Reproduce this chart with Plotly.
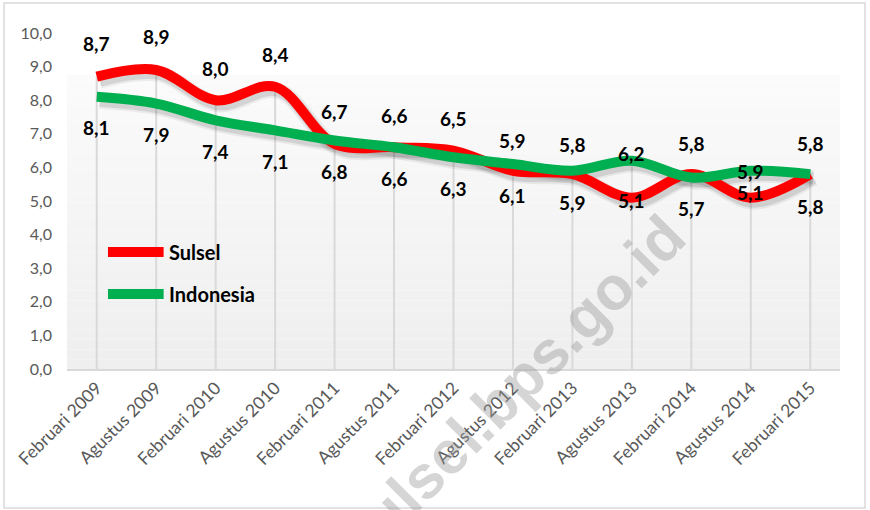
import plotly.graph_objects as go

# Tingkat pengangguran terbuka (%) - Sulsel vs Indonesia
periods = ["Februari 2009", "Agustus 2009", "Februari 2010", "Agustus 2010",
           "Februari 2011", "Agustus 2011", "Februari 2012", "Agustus 2012",
           "Februari 2013", "Agustus 2013", "Februari 2014", "Agustus 2014",
           "Februari 2015"]
sulsel = [8.7, 8.9, 8.0, 8.4, 6.7, 6.6, 6.5, 5.9, 5.8, 5.1, 5.8, 5.1, 5.8]
indonesia = [8.1, 7.9, 7.4, 7.1, 6.8, 6.6, 6.3, 6.1, 5.9, 6.2, 5.7, 5.9, 5.8]

# label offsets in pixels (positive = up), as placed in the original chart
sulsel_shift = [33, 33, 32, 32, 32, 32, 32, 30, 30, -3, 31, 5, 31]
indo_shift = [-31, -31, -31, -31, -31, -31, -31, -31, -32, 7, -31, -1, -32]

RED = "#FF0000"
GREEN = "#00B050"
FONT = "Lato"
idx = list(range(len(periods)))

fig = go.Figure()

# drop lines from the highest point down to the axis
drop_x, drop_y = [], []
for p, a, b in zip(periods, sulsel, indonesia):
    drop_x += [p, p, None]
    drop_y += [0, max(a, b), None]
fig.add_trace(go.Scatter(x=drop_x, y=drop_y, mode="lines",
                         line=dict(color="#d9d9d9", width=2),
                         hoverinfo="skip", showlegend=False))

# soft shadow under both lines (shifted overlay axes)
for series in (sulsel, indonesia):
    for w, op in ((16, 0.06), (12, 0.10)):
        fig.add_trace(go.Scatter(x=idx, y=series, mode="lines", xaxis="x2", yaxis="y2",
                                 line=dict(color="rgba(0,0,0,%s)" % op, width=w,
                                           shape="spline", smoothing=1),
                                 hoverinfo="skip", showlegend=False))

fig.add_trace(go.Scatter(x=idx, y=sulsel, mode="lines", name="Sulsel", xaxis="x3", yaxis="y3",
                         line=dict(color=RED, width=10, shape="spline", smoothing=1),
                         showlegend=False))
fig.add_trace(go.Scatter(x=idx, y=indonesia, mode="lines", name="Indonesia", xaxis="x3", yaxis="y3",
                         line=dict(color=GREEN, width=10, shape="spline", smoothing=1),
                         showlegend=False))

annotations = []
for p, v, s in zip(periods, sulsel, sulsel_shift):
    annotations.append(dict(x=p, y=v, xref="x", yref="y", text=("%.1f" % v).replace(".", ","),
                            showarrow=False, yshift=s,
                            font=dict(family=FONT, size=19, color="black", weight="bold")))
for p, v, s in zip(periods, indonesia, indo_shift):
    annotations.append(dict(x=p, y=v, xref="x", yref="y", text=("%.1f" % v).replace(".", ","),
                            showarrow=False, yshift=s,
                            font=dict(family=FONT, size=19, color="black", weight="bold")))

# legend (drawn by hand to match the long line samples)
shapes = []
for name, color, ly in (("Sulsel", RED, 0.348), ("Indonesia", GREEN, 0.223)):
    shapes.append(dict(type="line", xref="paper", yref="paper", x0=0.053, x1=0.125, y0=ly, y1=ly,
                       line=dict(color=color, width=10)))
    annotations.append(dict(x=0.129, y=ly, xref="paper", yref="paper", text=name, showarrow=False,
                            xanchor="left", yanchor="middle",
                            font=dict(family=FONT, size=20, color="black", weight="bold")))

# watermark (runs off the bottom edge, as in the original)
annotations.append(dict(x=0.575, y=-0.06, xref="paper", yref="paper", text="sulsel.bps.go.id",
                        showarrow=False, textangle=-45, xanchor="center", yanchor="middle",
                        font=dict(family="Liberation Sans", size=61, color="rgba(150,150,150,0.4)",
                                  weight="bold")))

# plot area gradient (white at top to light grey at the axis)
n = 30
top = 0.875
for i in range(n):
    t = i / (n - 1)
    c = int(251 - (251 - 239) * (1 - t))
    shapes.append(dict(type="rect", xref="x domain", yref="y domain", layer="below",
                       x0=0, x1=1, y0=top * i / n, y1=top * (i + 1) / n,
                       fillcolor="rgb(%d,%d,%d)" % (c, c, c), line=dict(width=0)))

# outer chart border
shapes.append(dict(type="rect", xref="paper", yref="paper", x0=-0.0815, x1=1.0323,
                   y0=-0.414, y1=1.089, line=dict(color="#d9d9d9", width=1.5)))

dx = 3 / 59.5
dy = 4 / 33.6
fig.update_layout(
    width=870, height=510,
    margin=dict(l=67, r=30, t=33, b=141),
    paper_bgcolor="white", plot_bgcolor="rgba(0,0,0,0)",
    separators=",.",
    font=dict(family=FONT, color="#595959"),
    showlegend=False,
    shapes=shapes,
    annotations=annotations,
    xaxis=dict(type="category", categoryorder="array", categoryarray=periods,
               range=[-0.5, len(periods) - 0.5], tickangle=-45, showgrid=False,
               showline=True, linecolor="#d9d9d9", linewidth=2, ticks="",
               tickfont=dict(family=FONT, size=17.5, color="#595959")),
    yaxis=dict(range=[0, 10], dtick=1, tickformat=".1f", showgrid=False, zeroline=False,
               showline=False, ticks="", ticklabelstandoff=14,
               tickfont=dict(family=FONT, size=16, color="#595959")),
    xaxis2=dict(overlaying="x", range=[-0.5 - dx, len(periods) - 0.5 - dx], visible=False),
    yaxis2=dict(overlaying="y", range=[0 + dy, 10 + dy], visible=False),
    xaxis3=dict(overlaying="x", range=[-0.5, len(periods) - 0.5], visible=False),
    yaxis3=dict(overlaying="y", range=[0, 10], visible=False),
)

fig.write_html("out.html", config={"displayModeBar": False},
               post_script="document.body.style.margin='0';")
